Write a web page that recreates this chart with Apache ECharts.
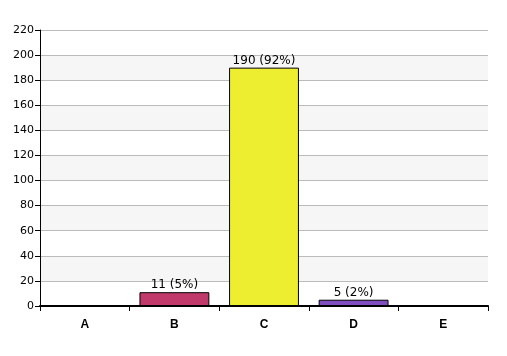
<!DOCTYPE html>
<html><head><meta charset="utf-8">
<script src="https://cdn.jsdelivr.net/npm/echarts@6/dist/echarts.min.js"></script>
<style>html,body{margin:0;padding:0;background:#fff}#c{width:507px;height:356px}</style>
</head><body><div id="c"></div>
<script>
const categories = ['A','B','C','D','E'];
const values = [0, 11, 190, 5, 0];
const colors = ['#c0396a','#c0396a','#eeee30','#7f4fbf','#7f4fbf'];
const total = values.reduce((a,b)=>a+b,0);
const chart = echarts.init(document.getElementById('c'));
chart.setOption({
  animation:false,
  backgroundColor:'#fff',
  grid:{left:40,right:19,top:30,bottom:50},
  xAxis:{type:'category',data:categories,
    axisLine:{lineStyle:{color:'#000',width:2}},
    axisTick:{show:true,length:5,lineStyle:{color:'#000'}},
    axisLabel:{color:'#000',fontWeight:'bold',fontSize:12,fontFamily:'Liberation Sans',margin:13}},
  yAxis:{type:'value',min:0,max:220,interval:20,
    axisLine:{show:true,lineStyle:{color:'#000'}},
    axisTick:{show:true,length:5,lineStyle:{color:'#000'}},
    axisLabel:{color:'#000',fontSize:11,fontFamily:'DejaVu Sans',margin:6},
    splitLine:{lineStyle:{color:'#bbb'}},
    splitArea:{show:true,areaStyle:{color:['#ffffff','#f6f6f6']}}},
  series:[{type:'bar',barCategoryGap:'22%',
    data:values.map((v,i)=>({value:v,itemStyle:{color:colors[i]}})),
    itemStyle:{borderColor:'#000',borderWidth:1},
    label:{show:true,position:'top',distance:1,color:'#000',fontSize:12,fontFamily:'DejaVu Sans',
      formatter:p=>p.value?p.value+' ('+Math.round(p.value/total*100)+'%)':''}}]
});
</script></body></html>
